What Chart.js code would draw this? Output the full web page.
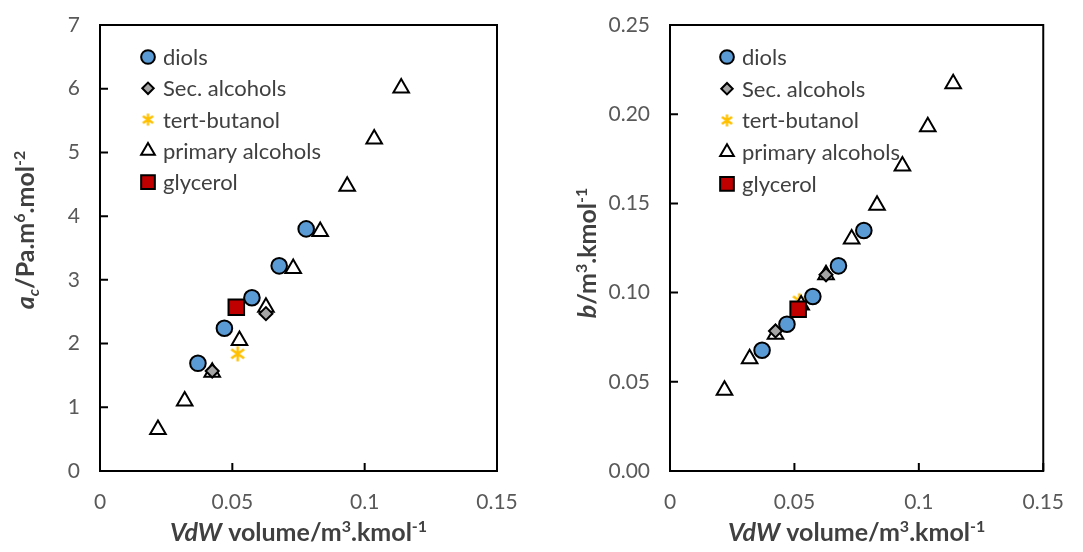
<!DOCTYPE html>
<html>
<head>
<meta charset="utf-8">
<script src="https://cdn.jsdelivr.net/npm/chart.js@4.4.0/dist/chart.umd.min.js"></script>
<style>
  html, body { margin: 0; padding: 0; background: #fff; }
  #wrap { position: relative; width: 1083px; height: 552px; }
  canvas { position: absolute; top: 0; }
  #acChart { left: 0; }
  #bChart { left: 541px; }
</style>
</head>
<body>
<div id="wrap">
  <canvas id="acChart" width="541" height="552"></canvas>
  <canvas id="bChart" width="542" height="552"></canvas>
</div>
<script>
// VdW volumes (m3/kmol) per compound family
const volDiols = [0.037, 0.047, 0.0574, 0.0677, 0.0779];
const volSec = [0.0424, 0.0627];
const volTert = [0.052];
const volPrimary = [0.0219, 0.032, 0.0424, 0.0527, 0.0627, 0.073, 0.0832, 0.0934, 0.1036, 0.1138];
const volGlycerol = [0.0515];

// attraction parameter a_c (Pa.m6.mol-2)
const acDiols = [1.69, 2.24, 2.72, 3.22, 3.80];
const acSec = [1.57, 2.47];
const acTert = [1.84];
const acPrimary = [0.65, 1.10, 1.55, 2.05, 2.57, 3.18, 3.76, 4.47, 5.21, 6.01];
const acGlycerol = [2.57];

// co-volume b (m3/kmol)
const bDiols = [0.0677, 0.0823, 0.0978, 0.115, 0.1348];
const bSec = [0.0785, 0.110];
const bTert = [0.0954];
const bPrimary = [0.0452, 0.0629, 0.0767, 0.093, 0.110, 0.130, 0.149, 0.171, 0.193, 0.217];
const bGlycerol = [0.0907];

const seriesNames = ["diols", "Sec. alcohols", "tert-butanol", "primary alcohols", "glycerol"];

// tick values and their printed labels
const volTicks = [0, 0.05, 0.1, 0.15];
const volTickLabels = ["0", "0.05", "0.1", "0.15"];
const acTicks = [0, 1, 2, 3, 4, 5, 6, 7];
const acTickLabels = ["0", "1", "2", "3", "4", "5", "6", "7"];
const bTicks = [0, 0.05, 0.1, 0.15, 0.2, 0.25];
const bTickLabels = ["0.00", "0.05", "0.10", "0.15", "0.20", "0.25"];

const FONT = "Lato";
const TICK_COLOR = "#595959";
const TEXT_COLOR = "#404040";

// asterisk marker for tert-butanol (vertical bar plus X)
function makeAsterisk(size, color, lw) {
  const c = document.createElement("canvas");
  c.width = size;
  c.height = size;
  const g = c.getContext("2d");
  const m = size / 2;
  const r = size / 2 - 1.5;
  g.strokeStyle = color;
  g.lineWidth = lw;
  g.beginPath();
  g.moveTo(m, m - r);
  g.lineTo(m, m + r);
  g.moveTo(m - r * 0.85, m - r * 0.6);
  g.lineTo(m + r * 0.85, m + r * 0.6);
  g.moveTo(m + r * 0.85, m - r * 0.6);
  g.lineTo(m - r * 0.85, m + r * 0.6);
  g.stroke();
  return c;
}
const starMark = makeAsterisk(18, "#FFC000", 2.6);
const starMarkSmall = makeAsterisk(15, "#FFC000", 2.4);

function toPoints(xs, ys) {
  return xs.map((x, i) => ({ x: x, y: ys[i] }));
}

// marker styles shared by both plots (lower order = drawn on top)
const markerStyles = [
  { pointStyle: "circle", pointRadius: 7.8, backgroundColor: "#5B9BD5", borderColor: "#000", borderWidth: 2, order: 0 },
  { pointStyle: "rectRot", pointRadius: 6.5, backgroundColor: "#A5A5A5", borderColor: "#000", borderWidth: 2, order: 2 },
  { pointStyle: starMark, pointRadius: 8, backgroundColor: "#FFC000", borderColor: "#FFC000", borderWidth: 0, order: 4 },
  { pointStyle: "triangle", pointRadius: 9, backgroundColor: "#fff", borderColor: "#000", borderWidth: 2, order: 3 },
  { pointStyle: "rect", pointRadius: 11, backgroundColor: "#C00000", borderColor: "#000", borderWidth: 2, order: 1 },
];

// draw a mixed-style bold string (italic / superscript / subscript pieces), centred on x,y
function drawRich(ctx, parts, x, y, size, angle) {
  ctx.save();
  ctx.translate(x, y);
  ctx.rotate(angle);
  const fontFor = (p) =>
    (p.it ? "italic " : "") + "bold " + (p.sup || p.sub ? Math.round(size * 0.62) : size) + "px " + FONT;
  let total = 0;
  parts.forEach((p) => {
    ctx.font = fontFor(p);
    total += ctx.measureText(p.t).width;
  });
  let cx = -total / 2;
  ctx.textBaseline = "alphabetic";
  ctx.textAlign = "left";
  ctx.fillStyle = TEXT_COLOR;
  parts.forEach((p) => {
    ctx.font = fontFor(p);
    const dy = p.sup ? -size * 0.38 : p.sub ? size * 0.2 : 0;
    ctx.fillText(p.t, cx, size * 0.36 + dy);
    cx += ctx.measureText(p.t).width;
  });
  ctx.restore();
}

// frame around the plot area with inward tick marks, titles and legend
const framePlugin = {
  id: "frame",
  beforeDatasetsDraw(chart) {
    const { ctx, chartArea: a, scales } = chart;
    ctx.save();
    ctx.strokeStyle = "#000";
    ctx.lineWidth = 2;
    ctx.strokeRect(a.left, a.top, a.right - a.left, a.bottom - a.top);
    ctx.beginPath();
    scales.x.ticks.forEach((t) => {
      const px = scales.x.getPixelForValue(t.value);
      ctx.moveTo(px, a.bottom);
      ctx.lineTo(px, a.bottom - 8);
    });
    scales.y.ticks.forEach((t) => {
      const py = scales.y.getPixelForValue(t.value);
      ctx.moveTo(a.left, py);
      ctx.lineTo(a.left + 8, py);
    });
    ctx.stroke();
    ctx.restore();
  },
  afterDraw(chart, args, opts) {
    const { ctx, chartArea: a } = chart;
    // axis titles
    drawRich(ctx, opts.xTitle, (a.left + a.right) / 2, 532, 25, 0);
    drawRich(ctx, opts.yTitle, opts.yTitleX, opts.yTitleY, 25, -Math.PI / 2);

    // legend inside the plot area
    const helpers = Chart.helpers;
    ctx.save();
    ctx.font = "22px " + FONT;
    ctx.textBaseline = "middle";
    ctx.textAlign = "left";
    chart.data.datasets.forEach((ds, i) => {
      const y = opts.legendTop + i * opts.legendStep;
      const x = a.left + opts.legendDx;
      ctx.fillStyle = ds.backgroundColor;
      ctx.strokeStyle = ds.borderColor;
      ctx.lineWidth = ds.borderWidth;
      const style = ds.pointStyle === starMark ? starMarkSmall : ds.pointStyle;
      helpers.drawPoint(ctx, {
        pointStyle: style,
        radius: ds.pointRadius * 0.88,
        rotation: 0,
        borderWidth: ds.borderWidth,
      }, x, y);
      ctx.fillStyle = TEXT_COLOR;
      ctx.fillText(ds.label, x + 15, y + 1);
    });
    ctx.restore();
  },
};

function buildChart(canvasId, cfg) {
  const ys = [cfg.diols, cfg.sec, cfg.tert, cfg.primary, cfg.glycerol];
  const xs = [volDiols, volSec, volTert, volPrimary, volGlycerol];
  const datasets = ys.map((y, i) =>
    Object.assign({ label: seriesNames[i], data: toPoints(xs[i], y) }, markerStyles[i])
  );

  const tickFont = { family: FONT, size: 21 };

  return new Chart(document.getElementById(canvasId), {
    type: "scatter",
    data: { datasets: datasets },
    options: {
      responsive: false,
      animation: false,
      events: [],
      layout: { padding: { left: 0, top: 25, right: cfg.padRight, bottom: 0 } },
      scales: {
        x: {
          type: "linear",
          min: 0,
          max: 0.15,
          afterBuildTicks: (s) => { s.ticks = volTicks.map((v) => ({ value: v })); },
          afterFit: (s) => { s.height = 81; },
          ticks: {
            callback: (v, i) => volTickLabels[i],
            color: TICK_COLOR,
            font: tickFont,
            padding: 19,
            maxRotation: 0,
            autoSkip: false,
          },
          grid: { display: false, drawTicks: false },
          border: { display: false },
        },
        y: {
          type: "linear",
          min: cfg.yTicks[0],
          max: cfg.yTicks[cfg.yTicks.length - 1],
          afterBuildTicks: (s) => { s.ticks = cfg.yTicks.map((v) => ({ value: v })); },
          // fixed axis width; label overhang is absorbed by the layout padding
          afterFit: (s) => {
            s.width = cfg.yWidth;
            s.paddingTop = 0;
            s.paddingBottom = 0;
          },
          ticks: {
            callback: (v, i) => cfg.yTickLabels[i],
            color: TICK_COLOR,
            font: tickFont,
            padding: 20,
            autoSkip: false,
          },
          grid: { display: false, drawTicks: false },
          border: { display: false },
        },
      },
      plugins: {
        legend: { display: false },
        tooltip: { enabled: false },
        frame: {
          xTitle: cfg.xTitle,
          yTitle: cfg.yTitle,
          yTitleX: cfg.yTitleX,
          yTitleY: cfg.yTitleY,
          legendTop: 57,
          legendStep: cfg.legendStep,
          legendDx: cfg.legendDx,
        },
      },
    },
    plugins: [framePlugin],
  });
}

const volTitle = [
  { t: "VdW", it: true },
  { t: " volume/m" },
  { t: "3", sup: true },
  { t: ".kmol" },
  { t: "-1", sup: true },
];

buildChart("acChart", {
  diols: acDiols, sec: acSec, tert: acTert, primary: acPrimary, glycerol: acGlycerol,
  yTicks: acTicks,
  yTickLabels: acTickLabels,
  yWidth: 100,
  padRight: 44,
  xTitle: volTitle,
  yTitle: [
    { t: "a", it: true },
    { t: "c", it: true, sub: true },
    { t: "/Pa.m" },
    { t: "6", sup: true },
    { t: ".mol" },
    { t: "-2", sup: true },
  ],
  yTitleX: 25,
  yTitleY: 230,
  legendStep: 31.3,
  legendDx: 48,
});

buildChart("bChart", {
  diols: bDiols, sec: bSec, tert: bTert, primary: bPrimary, glycerol: bGlycerol,
  yTicks: bTicks,
  yTickLabels: bTickLabels,
  yWidth: 129,
  padRight: 24,
  xTitle: volTitle,
  yTitle: [
    { t: "b", it: true },
    { t: "/m" },
    { t: "3", sup: true },
    { t: ".kmol" },
    { t: "-1", sup: true },
  ],
  yTitleX: 587 - 541,
  yTitleY: 253,
  legendStep: 31.7,
  legendDx: 57,
});
</script>
</body>
</html>
